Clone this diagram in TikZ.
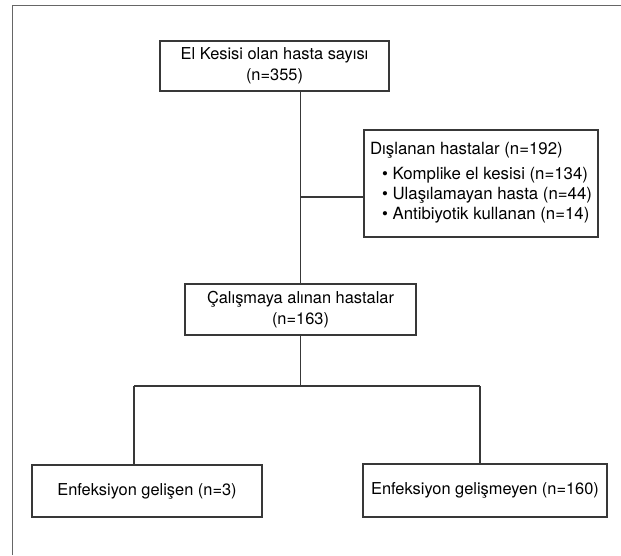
\documentclass[tikz,border=0pt]{standalone}
\usepackage{fontspec}
\setmainfont{TeX Gyre Heros}
\definecolor{linec}{gray}{0.22}
\definecolor{framec}{gray}{0.40}
\begin{document}
\begin{tikzpicture}[x=1pt,y=-1pt,
  box/.style={draw=linec, line width=1.1pt, inner sep=0pt, align=center,
    font=\fontsize{16.4}{21.5}\selectfont},
  conn/.style={draw=linec, line width=1.1pt}]
\useasboundingbox (0,0) rectangle (621,555);
\draw[framec, line width=1.4pt] (12.5,555) -- (12.5,5.5) -- (621,5.5);

\node[box, minimum width=229pt, minimum height=50pt] (top) at (274.5,66)
  {El Kesisi olan hasta sayısı\\(n=355)};
\node[box, minimum width=231pt, minimum height=51pt] (mid) at (300.5,309.5)
  {Çalışmaya alınan hastalar\\(n=163)};
\node[box, minimum width=234pt, minimum height=107pt, align=left,
      font=\fontsize{16.8}{20}\selectfont] (excl) at (481,183.5)
  {Dışlanan hastalar (n=192)\\[5pt]
   \hspace*{12pt}• Komplike el kesisi (n=134)\\
   \hspace*{12pt}• Ulaşılamayan hasta (n=44)\\
   \hspace*{12pt}• Antibiyotik kullanan (n=14)\rule[-6pt]{0pt}{6pt}};
\node[box, minimum width=230pt, minimum height=52pt] (left) at (147,491)
  {Enfeksiyon gelişen (n=3)};
\node[box, minimum width=244pt, minimum height=53pt] (right) at (485,490.5)
  {Enfeksiyon gelişmeyen (n=160)};

\coordinate (j1) at (300.5,197);
\coordinate (bl) at (134,386);
\coordinate (br) at (480,386);

\draw[conn] (mid.north |- top.south) -- (mid.north);
\draw[conn] (j1) -- (j1 -| excl.west);
\draw[conn] (mid.south) -- (mid.south |- bl);
\draw[conn] (bl) -- (br);
\draw[conn] (bl) -- (bl |- left.north);
\draw[conn] (br) -- (br |- right.north);
\end{tikzpicture}
\end{document}
